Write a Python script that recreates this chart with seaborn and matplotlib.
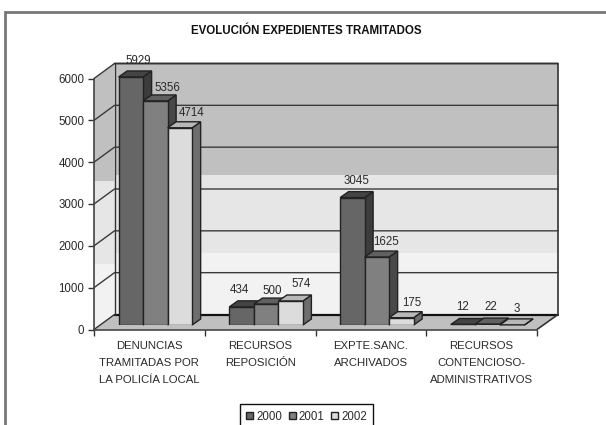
import pandas as pd
import matplotlib
matplotlib.use("Agg")
import matplotlib.pyplot as plt
import seaborn as sns
from matplotlib.patches import Polygon

categories = ["DENUNCIAS\nTRAMITADAS POR\nLA POLICÍA LOCAL", "RECURSOS\nREPOSICIÓN",
              "EXPTE.SANC.\nARCHIVADOS", "RECURSOS\nCONTENCIOSO-\nADMINISTRATIVOS"]
years = ["2000", "2001", "2002"]
values_2000 = [5929, 434, 3045, 12]
values_2001 = [5356, 500, 1625, 22]
values_2002 = [4714, 574, 175, 3]
y_ticks = [0, 1000, 2000, 3000, 4000, 5000, 6000]

front_colors = ["#666666", "#808080", "#dcdcdc"]
side_colors = ["#3c3c3c", "#484848", "#6e6e6e"]
top_colors = ["#444444", "#606060", "#b8b8b8"]

# label nudges in pixels from the middle of each bar top, excel placed them unevenly
label_nudge = {
    "2000": [(7, 16), (-2, 17), (4, 17), (-1, 17)],
    "2001": [(12, 13), (6, 13), (9, 15), (3, 17)],
    "2002": [(12, 15), (11, 17), (10, 15), (5, 16)],
}

W, H = 606, 425
X0, X1, Y0, Y6 = 94, 537, 329.5, 78.5   # front plane of the plot
DX, DY = 20.5, 15                       # how far back the wall sits
BAR_DX, BAR_DY = 6, 4.5                 # bars stand a bit behind the front plane
DEPTH_X, DEPTH_Y = 8.5, 6               # bar depth


def fig_rect(x0, x1, y_bottom, y_top):
    return [x0 / W, 1 - y_bottom / H, (x1 - x0) / W, (y_bottom - y_top) / H]


df = pd.DataFrame({
    "categoria": categories * 3,
    "anio": [y for y in years for _ in categories],
    "valor": values_2000 + values_2001 + values_2002,
})

sns.set_theme(style="white")
plt.rcParams["font.family"] = ["Liberation Sans", "DejaVu Sans"]
plt.rcParams["text.color"] = "#2a2a2a"

fig = plt.figure(figsize=(W / 100, H / 100), dpi=100, facecolor="white")

# background in pixel coordinates: frame, walls, floor
bg = fig.add_axes([0, 0, 1, 1])
bg.set_xlim(0, W)
bg.set_ylim(H, 0)
bg.axis("off")
bg.plot([5, 5, W], [H, 12, 12], color="#777777", lw=2, solid_joinstyle="miter")

wall_l, wall_r = X0 + DX, X1 + DX + 0.5
wall_top, wall_bot = Y6 - DY, Y0 - DY
for color, top, bot in [("#c0c0c0", wall_top, 174.5), ("#e6e6e6", 174.5, 252.5), ("#f2f2f2", 252.5, wall_bot)]:
    bg.fill_between([wall_l, wall_r], top, bot, color=color, lw=0)
bg.add_patch(Polygon([(X0, Y6), (wall_l, wall_top), (wall_l, 181), (X0, 181)], fc="#c0c0c0", lw=0))
bg.add_patch(Polygon([(X0, 181), (wall_l, 181), (wall_l, 264), (X0, 264)], fc="#e6e6e6", lw=0))
bg.add_patch(Polygon([(X0, 264), (wall_l, 264), (wall_l, wall_bot), (X0, Y0)], fc="#f2f2f2", lw=0))
bg.add_patch(Polygon([(X0, Y0), (wall_l, wall_bot), (wall_r, wall_bot), (X1, Y0)], fc="#c0c0c0", lw=0))

for v in y_ticks:
    y = Y0 - v * (Y0 - Y6) / 6000
    if v == 0:
        bg.plot([X0, wall_l], [y, y - DY], color="#333333", lw=1)
        bg.plot([wall_l, wall_r], [y - DY, y - DY], color="#111111", lw=1.6)
    else:
        bg.plot([X0, wall_l, wall_r], [y, y - DY, y - DY], color="#3a3a3a", lw=1)
bg.plot([wall_l, wall_l], [wall_top, wall_bot], color="#333333", lw=1)
bg.plot([wall_l, wall_r, wall_r, X1], [wall_top, wall_top, wall_bot, Y0], color="#333333", lw=1.2)
bg.text(306.5, 31, "EVOLUCIÓN EXPEDIENTES TRAMITADOS", ha="center", va="center",
        fontsize=8.3, fontweight="bold", color="#111111")

# front plane: axis lines, ticks and labels
base = fig.add_axes(fig_rect(X0, X1, Y0, Y6), facecolor="none")
base.set_xlim(-0.5, len(categories) - 0.5)
base.set_ylim(0, 6000)
base.set_yticks(y_ticks)
base.set_xticks(range(len(categories)))
base.set_xticklabels(categories, linespacing=1.85)
base.set_xticks([i - 0.5 for i in range(len(categories) + 1)], minor=True)
base.tick_params(axis="x", which="major", length=0, pad=8.5, labelsize=8.2, labelcolor="#2a2a2a")
base.tick_params(axis="x", which="minor", length=4, width=1, color="#333333", bottom=True)
base.tick_params(axis="y", length=4, width=1, color="#333333", left=True, pad=3, labelsize=8.3, labelcolor="#2a2a2a")
sns.despine(ax=base)
for side in ["left", "bottom"]:
    base.spines[side].set_color("#444444")
    base.spines[side].set_linewidth(1.2)

# bars, same scale but shifted back
ax = fig.add_axes(fig_rect(X0 + BAR_DX, X1 + BAR_DX, Y0 - BAR_DY, Y6 - BAR_DY), facecolor="none")
sns.barplot(data=df, x="categoria", y="valor", hue="anio", palette=front_colors, width=0.664, gap=0,
            edgecolor="#222222", linewidth=1, ax=ax)
ax.set_xlim(-0.5, len(categories) - 0.5)
ax.set_ylim(0, 6000)

cat_px = (X1 - X0) / len(categories)
val_px = (Y0 - Y6) / 6000
dx, dy = DEPTH_X / cat_px, DEPTH_Y / val_px

for h, (container, year) in enumerate(zip(ax.containers, years)):
    for c, bar in enumerate(container):
        x0, w, top = bar.get_x(), bar.get_width(), bar.get_height()
        z = 3 + c * 10 + h * 3
        bar.set_zorder(z + 2)
        ax.add_patch(Polygon([(x0 + w, 0), (x0 + w + dx, dy), (x0 + w + dx, top + dy), (x0 + w, top)],
                             fc=side_colors[h], ec="#222222", lw=1, zorder=z, clip_on=False))
        ax.add_patch(Polygon([(x0, top), (x0 + dx, top + dy), (x0 + w + dx, top + dy), (x0 + w, top)],
                             fc=top_colors[h], ec="#222222", lw=1, zorder=z + 1, clip_on=False))
        nx, ny = label_nudge[year][c]
        ax.annotate(str(int(top)), (x0 + w / 2, top), xytext=(nx * 0.72, ny * 0.72), textcoords="offset points",
                    ha="center", va="center", fontsize=8.3, color="#2a2a2a", zorder=100, annotation_clip=False)

ax.axis("off")
sns.move_legend(ax, "lower center", bbox_to_anchor=(306.5 / W, -4 / H), bbox_transform=fig.transFigure,
                ncol=3, title=None, frameon=True, fancybox=False, edgecolor="#111111", framealpha=1,
                fontsize=8.3, handlelength=0.65, handleheight=0.65, handletextpad=0.25, columnspacing=0.55,
                borderpad=0.55, borderaxespad=0)
ax.get_legend().get_frame().set_linewidth(1)

fig.savefig("out.png", dpi=100)
